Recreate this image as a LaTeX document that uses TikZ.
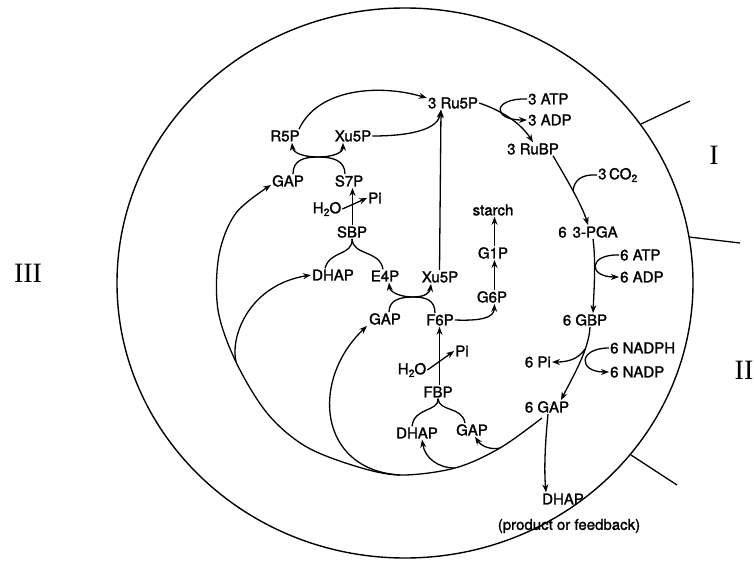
\documentclass[tikz,border=0pt]{standalone}
\usepackage{fontspec}
\setmainfont{TeX Gyre Heros}
\newfontfamily\labfont[FakeBold=1.6]{TeX Gyre Heros}
\newfontfamily\romanfont{Liberation Serif}
\usetikzlibrary{arrows.meta}
\newcommand\subs[1]{\raisebox{-0.35ex}{\fontsize{10.5}{10.5}\selectfont #1}}
\begin{document}
\begin{tikzpicture}[x=1pt,y=-1pt,
  lbl/.style={font=\labfont\fontsize{15}{17}\selectfont, inner sep=1pt},
  arr/.style={-{Stealth[length=8pt,width=6pt]}, line width=1.3pt},
  ln/.style={line width=1.3pt},
  rom/.style={font=\romanfont\fontsize{28}{30}\selectfont, inner sep=0pt}]
\useasboundingbox (0,0) rectangle (754,561);
% outer circle and sector ticks
\draw[line width=1.4pt] (405,283) ellipse [x radius=288pt, y radius=275pt];
\coordinate (t1a) at (641,124); \coordinate (t1b) at (690,101);
\coordinate (t2a) at (689,237); \coordinate (t2b) at (740,243);
\coordinate (t3a) at (631,455); \coordinate (t3b) at (677,485);
\draw[line width=1.3pt] (t1a) -- (t1b);
\draw[line width=1.3pt] (t2a) -- (t2b);
\draw[line width=1.3pt] (t3a) -- (t3b);
\node[rom] (rI) at (714,155) {I};
\node[rom] (rII) at (744,370) {II};
\node[rom] (rIII) at (28,273) {III};
% labels
\node[lbl] (Ru5P) at (453,103) {3 Ru5P};
\node[lbl, anchor=west] (ATP3) at (527,99) {3 ATP};
\node[lbl, anchor=west] (ADP3) at (527,120) {3 ADP};
\node[lbl] (RuBP) at (533,149) {3 RuBP};
\node[lbl, anchor=west] (CO2) at (597,175) {3\,CO\subs{2}};
\node[lbl] (PGA) at (588,232) {6\hspace{0.4em}3-PGA};
\node[lbl, anchor=west] (ATP6) at (619,255) {6 ATP};
\node[lbl, anchor=west] (ADP6) at (619,277) {6 ADP};
\node[lbl] (GBP) at (585,320) {6 GBP};
\node[lbl, anchor=west] (NADPH) at (609,348) {6 NADPH};
\node[lbl, anchor=west] (NADP) at (609,372) {6 NADP};
\node[lbl, anchor=east] (Pi6) at (552,362) {6 Pi};
\node[lbl] (GAP6) at (547,407) {6 GAP};
\node[lbl] (DHAPo) at (563,499) {DHAP};
\node[lbl] (prod) at (569,526) {(product or feedback)};
\node[lbl] (R5P) at (285,136) {R5P};
\node[lbl] (Xu5Pa) at (353,136) {Xu5P};
\node[lbl] (GAPa) at (288,181) {GAP};
\node[lbl] (S7P) at (349,181) {S7P};
\node[lbl] (H2Oa) at (327,209) {H\subs{2}O};
\node[lbl] (Pia) at (375,198) {Pi};
\node[lbl] (SBP) at (352,232) {SBP};
\node[lbl] (DHAPa) at (333,275) {DHAP};
\node[lbl] (E4P) at (385,276) {E4P};
\node[lbl] (Xu5Pb) at (440,277) {Xu5P};
\node[lbl] (GAPb) at (385,319) {GAP};
\node[lbl] (F6P) at (440,320) {F6P};
\node[lbl] (starch) at (493,210) {starch};
\node[lbl] (G1P) at (493,253) {G1P};
\node[lbl] (G6P) at (492,297) {G6P};
\node[lbl] (Pib) at (462,351) {Pi};
\node[lbl] (H2Ob) at (412,370) {H\subs{2}O};
\node[lbl] (FBP) at (438,392) {FBP};
\node[lbl] (DHAPb) at (417,433) {DHAP};
\node[lbl] (GAPc) at (472,430) {GAP};
% top: regeneration to Ru5P
\draw[arr] ([xshift=14]R5P.north) .. controls (318,88) and (380,84) .. ([yshift=5]Ru5P.west);
\draw[arr] (Xu5Pa.east) .. controls (415,136) and (438,128) .. ([xshift=-12]Ru5P.south);
\draw[arr] ([xshift=-0.5]Xu5Pb.north) -- ([xshift=-12]Ru5P.south);
% Ru5P -> RuBP
\draw[arr] (Ru5P.east) .. controls (500,110) and (520,122) .. (RuBP.north);
\draw[arr] (ATP3.west) .. controls (492,98) and (492,120) .. (ADP3.west);
% RuBP -> PGA
\draw[arr] ([xshift=20]RuBP.south) .. controls (566,178) and (582,205) .. (PGA.north);
\coordinate (J1) at (573,191);
\draw[ln] (CO2.west) .. controls (582,174) and (574,180) .. (J1);
% PGA -> GBP
\draw[arr] ([xshift=5]PGA.south) .. controls (596,262) and (594,290) .. ([xshift=8]GBP.north);
\draw[arr] (ATP6.west) .. controls (588,254) and (588,277) .. (ADP6.west);
% GBP -> GAP
\draw[arr] ([xshift=5]GBP.south) .. controls (589,350) and (572,378) .. ([xshift=14]GAP6.north);
\coordinate (J2) at (585,349);
\draw[arr] (NADPH.west) .. controls (578,348) and (578,372) .. (NADP.west);
\draw[arr] (J2) .. controls (578,360) and (566,362) .. (Pi6.east);
% GAP -> DHAP product
\draw[arr] ([xshift=1]GAP6.south) .. controls (545,445) and (544,470) .. ([xshift=-17]DHAPo.north);
% crosses
\coordinate (X1) at (318,157);
\draw[arr] ([xshift=5]GAPa.north) .. controls (293,160) and (304,157) .. (X1) .. controls (332,157) and (343,153) .. ([xshift=-10]Xu5Pa.south);
\draw[arr] ([xshift=-4]S7P.north) .. controls (345,160) and (332,157) .. (X1) .. controls (304,157) and (293,153) .. ([xshift=7]R5P.south);
\coordinate (X2) at (413,297);
\draw[arr] ([xshift=4]GAPb.north) .. controls (389,300) and (400,297) .. (X2) .. controls (426,297) and (430,292) .. ([xshift=-9]Xu5Pb.south);
\draw[arr] ([xshift=-5]F6P.north) .. controls (435,300) and (426,297) .. (X2) .. controls (400,297) and (390,292) .. ([xshift=4]E4P.south);
% SBP branch
\draw[arr] ([xshift=0.5]SBP.north) -- ([xshift=3.5]S7P.south);
\draw[arr] (H2Oa.east) -- (Pia.west);
\draw[ln] (SBP.south) .. controls (353,256) and (330,250) .. ([xshift=-8]DHAPa.north);
\draw[ln] (SBP.south) .. controls (353,256) and (380,250) .. ([xshift=-2]E4P.north);
% FBP branch
\draw[arr] ([xshift=1.5]FBP.north) -- ([xshift=-0.5]F6P.south);
\draw[arr] (H2Ob.east) -- (Pib.west);
\draw[ln] (FBP.south) .. controls (439,412) and (414,407) .. ([xshift=-5]DHAPb.north);
\draw[ln] (FBP.south) .. controls (439,412) and (462,406) .. ([xshift=-7]GAPc.north);
% starch branch
\draw[arr] (F6P.east) .. controls (480,321) and (494,318) .. ([xshift=2.5]G6P.south);
\draw[arr] ([xshift=2.5]G6P.north) -- ([xshift=1.5]G1P.south);
\draw[arr] ([xshift=1.5]G1P.north) -- ([xshift=1.5]starch.south);
% big recycling trunk
\coordinate (T0) at ([xshift=-5,yshift=-4]GAP6.south);
\coordinate (B4) at (500,448);
\coordinate (B3) at (455,468);
\coordinate (B2) at (400,475);
\coordinate (B1) at (236,362);
\coordinate (TE) at ([yshift=-4]GAPa.west);
\draw[arr] plot[smooth, tension=0.55] coordinates {(T0) (B4) (B3) (B2) (355,466) (305,446) (267,413) (B1) (218,310) (219,255) (236,213) (TE)};
\draw[arr] (B1) .. controls (230,335) and (250,285) .. (DHAPa.west);
\draw[arr] (B2) .. controls (318,470) and (310,380) .. ([xshift=-1]GAPb.south west);
\draw[arr] (B3) .. controls (438,468) and (425,458) .. ([xshift=5]DHAPb.south);
\draw[arr] (B4) .. controls (492,450) and (482,447) .. ([xshift=3]GAPc.south);
\end{tikzpicture}
\end{document}
